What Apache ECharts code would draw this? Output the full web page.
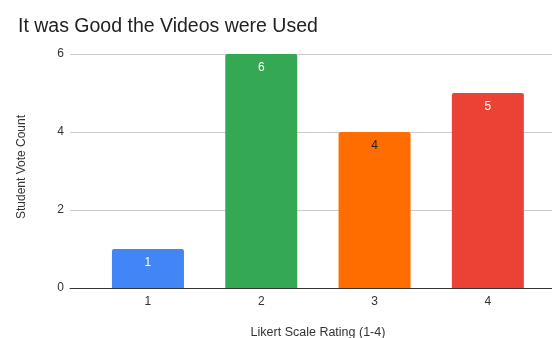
<!DOCTYPE html>
<html><head><meta charset="utf-8">
<script src="https://cdn.jsdelivr.net/npm/echarts@6/dist/echarts.min.js"></script>
<style>html,body{margin:0;padding:0;background:#fff}#c{width:552px;height:338px}</style>
</head><body><div id="c"></div>
<script>
const title = "It was Good the Videos were Used";
const categories = [1, 2, 3, 4];
const votes = [1, 6, 4, 5];
const yTicks = [0, 2, 4, 6];
const barColors = ["#4285F4", "#34A853", "#FF6D01", "#EA4335"];
const labelColors = ["#ffffff", "#ffffff", "#222222", "#ffffff"];

const chart = echarts.init(document.getElementById('c'), null, {renderer: 'canvas'});
const font = "Liberation Sans, Arial, sans-serif";
chart.setOption({
  animation: false,
  textStyle: {fontFamily: font},
  title: {text: title, left: 13, top: 12,
    textStyle: {fontSize: 19.5, fontWeight: 'normal', color: '#222', fontFamily: font}},
  grid: {left: 70, right: 0, top: 54, bottom: 50, containLabel: false, outerBoundsMode: 'none'},
  xAxis: {
    type: 'value', min: 0.312, max: 4.566,
    name: 'Likert Scale Rating (1-4)', nameLocation: 'middle', nameGap: 38,
    nameTextStyle: {fontSize: 12.5, color: '#333', padding: [0, 0, 0, 14]},
    axisLine: {show: true, lineStyle: {color: '#333', width: 1}},
    axisTick: {show: false},
    splitLine: {show: false},
    axisLabel: {customValues: categories, color: '#333', fontSize: 12, margin: 8,
      formatter: v => String(v)}
  },
  yAxis: {
    type: 'value', min: 0, max: 6, interval: 2,
    name: 'Student Vote Count', nameLocation: 'middle', nameGap: 42, nameRotate: 90,
    nameTextStyle: {fontSize: 12, color: '#333', padding: [0, 0, 0, 8]},
    axisLine: {show: false}, axisTick: {show: false},
    axisLabel: {color: '#333', fontSize: 12, margin: 6,
      customValues: yTicks},
    splitLine: {lineStyle: {color: '#cccccc', width: 1}}
  },
  series: [{
    type: 'bar',
    barWidth: 72,
    data: categories.map((c, i) => ({
      value: [c, votes[i]],
      itemStyle: {color: barColors[i], borderRadius: [2, 2, 0, 0]},
      label: {color: labelColors[i]}
    })),
    label: {show: true, position: 'insideTop', distance: 8, fontSize: 12,
      formatter: p => String(p.value[1])}
  }]
});
</script></body></html>
